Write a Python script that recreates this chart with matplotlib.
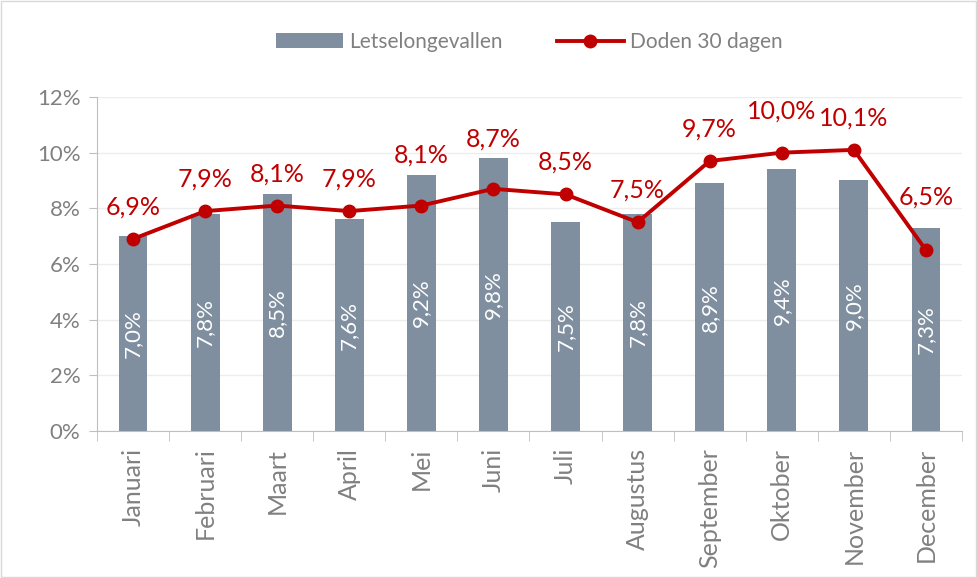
import matplotlib.pyplot as plt
import numpy as np
from matplotlib.ticker import FuncFormatter, FixedLocator

plt.rcParams['font.family'] = ['Lato', 'DejaVu Sans']

maanden = ['Januari', 'Februari', 'Maart', 'April', 'Mei', 'Juni', 'Juli',
           'Augustus', 'September', 'Oktober', 'November', 'December']
letsel = [7.0, 7.8, 8.5, 7.6, 9.2, 9.8, 7.5, 7.8, 8.9, 9.4, 9.0, 7.3]
doden = [6.9, 7.9, 8.1, 7.9, 8.1, 8.7, 8.5, 7.5, 9.7, 10.0, 10.1, 6.5]

grijs = '#808080'
rood = '#C00000'
balk = '#7F8FA0'

fig = plt.figure(figsize=(9.78, 5.78), dpi=100)
ax = fig.add_axes([0.0992, 0.2543, 0.8844, 0.5779])

x = np.arange(len(maanden))
bars = ax.bar(x, letsel, width=0.4, color=balk, label='Letselongevallen', zorder=2)
lijn, = ax.plot(x, doden, color=rood, lw=2.8, marker='o', ms=9, label='Doden 30 dagen', zorder=3)

# labels in de balken
for xi, v in zip(x, letsel):
    ax.text(xi, v / 2, f'{v:.1f}%'.replace('.', ','), rotation=90, ha='center',
            va='center', color='white', fontsize=16, zorder=4)

# labels boven de lijn (sommige hoger geschoven, boven de balk)
verschuiving = {4: 36, 5: 36, 9: 30, 11: 38}
for xi, v in zip(x, doden):
    dy = verschuiving.get(xi, 23)
    ax.annotate(f'{v:.1f}%'.replace('.', ','), (xi, v), xytext=(0, dy),
                textcoords='offset points', ha='center', va='center',
                color=rood, fontsize=18, zorder=4)

ax.set_xlim(-0.5, 11.5)
ax.set_ylim(0, 12)
ax.set_yticks(range(0, 13, 2))
ax.yaxis.set_major_formatter(FuncFormatter(lambda v, p: f'{v:.0f}%'))
ax.set_xticks(x)
ax.set_xticklabels(maanden, rotation=90)
ax.xaxis.set_minor_locator(FixedLocator(np.arange(-0.5, 12, 1)))
ax.tick_params(axis='x', which='major', length=0, pad=12, labelsize=18, labelcolor=grijs)
ax.tick_params(axis='x', which='minor', length=7, color='#BFBFBF')
ax.tick_params(axis='y', length=6, color='#BFBFBF', labelsize=16, labelcolor=grijs, pad=6)

ax.grid(axis='y', color='#EDEDED', lw=1, zorder=0)
ax.set_axisbelow(True)
for s in ['top', 'right']:
    ax.spines[s].set_visible(False)
for s in ['left', 'bottom']:
    ax.spines[s].set_color('#BFBFBF')

ax.legend([bars, lijn], ['Letselongevallen', 'Doden 30 dagen'],
          loc='center', bbox_to_anchor=(0.5, 1.165), ncol=2, frameon=False,
          fontsize=15, labelcolor=grijs, handlelength=3.2, columnspacing=2.6,
          handletextpad=0.3)

fig.patches.append(plt.Rectangle((0.001, 0.002), 0.997, 0.996, transform=fig.transFigure,
                                 fill=False, edgecolor='#D9D9D9', lw=1))

fig.savefig('out.png', dpi=100)
